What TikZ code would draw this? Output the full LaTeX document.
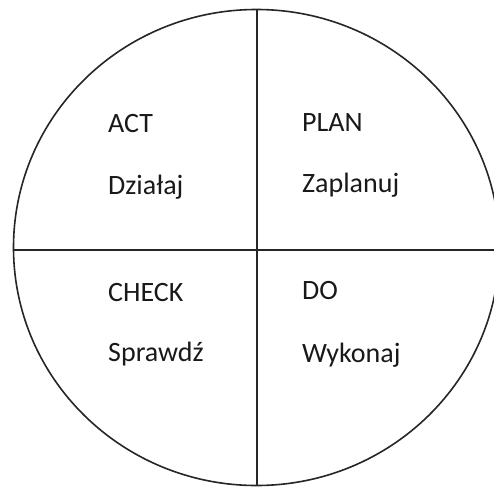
\documentclass[tikz,border=0pt]{standalone}
\usepackage{fontspec}
\setmainfont{Carlito}
\begin{document}
\begin{tikzpicture}[x=1pt,y=-1pt,
  lbl/.style={anchor=base west,inner sep=0pt,font=\fontsize{28}{31}\selectfont,text=black!90},
  ln/.style={line width=1.6pt,draw=black!85}]
\useasboundingbox (0,0) rectangle (494,487);
\clip (0,0) rectangle (494,487);
\coordinate (c) at (256.5,247.5);
\draw[ln] (c) ellipse [x radius=243, y radius=238];
\coordinate (l) at (13.5,250);
\coordinate (r) at (494,250);
\coordinate (t) at (257,9.5);
\coordinate (b) at (257,485.5);
\draw[ln] (l) -- (r);
\draw[ln] (t) -- (b);
\node[lbl] (act) at (108,132) {ACT};
\node[lbl] (dzialaj) at (108,194) {Działaj};
\node[lbl] (plan) at (302,131) {PLAN};
\node[lbl] (zaplanuj) at (302,192) {Zaplanuj};
\node[lbl] (check) at (108,301) {CHECK};
\node[lbl] (sprawdz) at (108,361) {Sprawdź};
\node[lbl] (do) at (302,299) {DO};
\node[lbl] (wykonaj) at (302,362) {Wykonaj};
\end{tikzpicture}
\end{document}
